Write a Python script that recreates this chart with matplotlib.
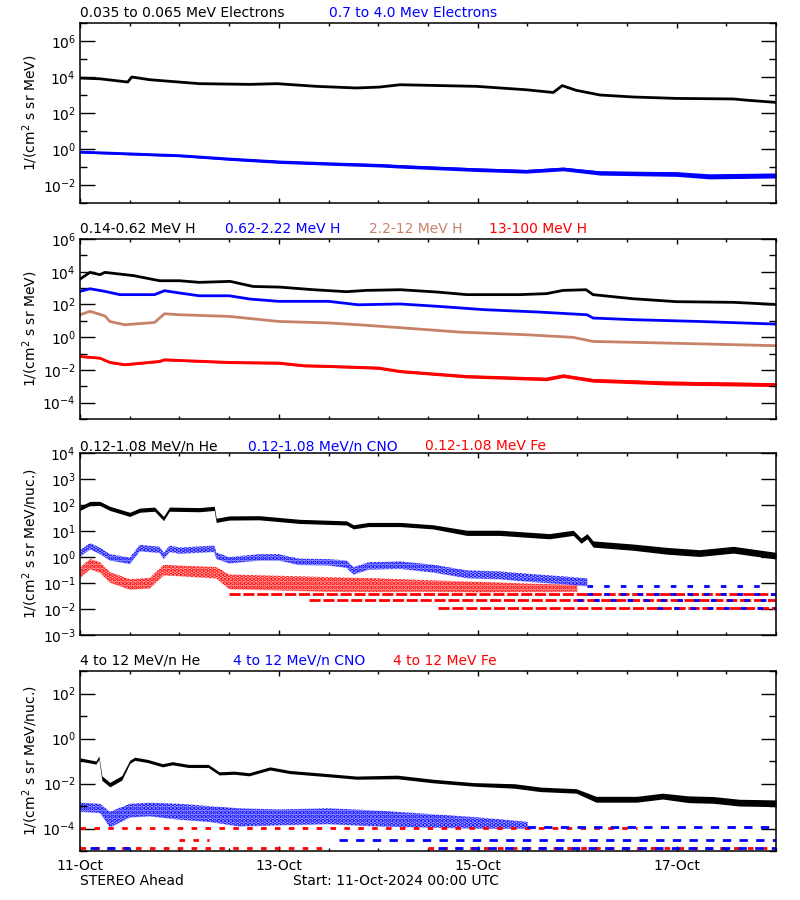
import matplotlib
matplotlib.use('Agg')
import matplotlib.pyplot as plt
import numpy as np
from matplotlib.ticker import NullFormatter

plt.rcParams['font.family'] = ['DejaVu Sans']
plt.rcParams['mathtext.default'] = 'regular'
plt.rcParams['hatch.linewidth'] = 2.2

BROWN = '#c8826a'

# all values are log10 of the flux, times are days since 11-Oct-2024 00:00

# --- panel 1: electrons
e_low_t = [0, 0.2, 0.48, 0.52, 0.7, 1.2, 1.71, 1.98, 2.38, 2.78, 3.01, 3.22, 3.99,
           4.49, 4.76, 4.85, 4.99, 5.23, 5.56, 6.0, 6.57, 6.73, 7.0]
e_low_v = [3.94, 3.90, 3.72, 4.0, 3.85, 3.63, 3.59, 3.63, 3.48, 3.39, 3.44, 3.57, 3.48,
           3.29, 3.14, 3.52, 3.26, 3.0, 2.89, 2.81, 2.78, 2.7, 2.59]
e_high_t = [0, 0.5, 1.0, 1.51, 2.01, 2.51, 3.02, 3.22, 3.99, 4.49, 4.86, 5.23, 6.0, 6.33, 7.0]
e_high_v = [-0.17, -0.27, -0.37, -0.56, -0.72, -0.82, -0.91, -0.97, -1.15, -1.24, -1.11,
            -1.33, -1.39, -1.52, -1.47]
e_high_sp = [0.05, 0.06, 0.06, 0.07, 0.08, 0.08, 0.09, 0.09, 0.1, 0.1, 0.1, 0.12, 0.13,
             0.14, 0.14]

# --- panel 2: protons
h1_t = [0, 0.1, 0.2, 0.25, 0.54, 0.8, 1.0, 1.2, 1.51, 1.74, 2.01, 2.35, 2.68, 2.88,
        3.22, 3.59, 3.89, 4.42, 4.69, 4.86, 5.09, 5.16, 5.56, 6.0, 6.57, 7.0]
h1_v = [3.55, 3.96, 3.82, 3.96, 3.76, 3.45, 3.45, 3.35, 3.41, 3.1, 3.06, 2.9, 2.78, 2.86,
        2.9, 2.76, 2.6, 2.6, 2.66, 2.86, 2.9, 2.6, 2.35, 2.17, 2.13, 2.0]
h2_t = [0, 0.1, 0.25, 0.4, 0.75, 0.85, 1.0, 1.2, 1.5, 1.71, 2.0, 2.5, 2.8, 3.22, 3.61,
        4.07, 4.6, 5.1, 5.16, 5.56, 6.23, 7.0]
h2_v = [2.8, 2.96, 2.8, 2.6, 2.6, 2.84, 2.7, 2.53, 2.53, 2.33, 2.19, 2.19, 1.98, 2.03,
        1.88, 1.68, 1.54, 1.37, 1.17, 1.07, 0.96, 0.8]
h3_t = [0, 0.1, 0.25, 0.3, 0.45, 0.75, 0.85, 1.0, 1.5, 2.0, 2.5, 2.8, 3.22, 3.82, 4.49,
        4.96, 5.16, 5.9, 7.0]
h3_v = [1.37, 1.58, 1.3, 0.96, 0.76, 0.9, 1.43, 1.37, 1.27, 0.96, 0.87, 0.76, 0.58, 0.31,
        0.15, -0.01, -0.26, -0.36, -0.52]
h4_t = [0, 0.2, 0.3, 0.45, 0.8, 0.85, 1.0, 1.5, 2.0, 2.25, 2.5, 3.0, 3.22, 3.89, 4.69,
        4.86, 5.16, 5.9, 7.0]
h4_v = [-1.18, -1.28, -1.54, -1.68, -1.48, -1.38, -1.42, -1.54, -1.58, -1.74, -1.78,
        -1.88, -2.09, -2.4, -2.56, -2.36, -2.64, -2.8, -2.9]
h4_sp = [0.05, 0.05, 0.06, 0.06, 0.06, 0.06, 0.06, 0.07, 0.07, 0.07, 0.07, 0.08, 0.08,
         0.09, 0.1, 0.1, 0.11, 0.12, 0.12]

# --- panel 3: 0.12-1.08 MeV/n ions
he_lo_t = [0, 0.1, 0.2, 0.3, 0.5, 0.6, 0.75, 0.84, 0.9, 1.2, 1.35, 1.37, 1.5, 1.8, 2.21,
           2.68, 2.75, 2.9, 3.22, 3.55, 3.89, 4.22, 4.72, 4.96, 5.04, 5.1, 5.16, 5.56,
           5.9, 6.23, 6.57, 7.0]
he_lo_v = [1.87, 2.06, 2.06, 1.87, 1.64, 1.8, 1.84, 1.48, 1.84, 1.82, 1.87, 1.41, 1.5,
           1.51, 1.37, 1.31, 1.16, 1.25, 1.25, 1.16, 0.93, 0.93, 0.8, 0.93, 0.63, 0.8,
           0.5, 0.38, 0.24, 0.15, 0.28, 0.05]
he_lo_sp = [0.08, 0.08, 0.08, 0.08, 0.08, 0.08, 0.08, 0.08, 0.08, 0.08, 0.08, 0.08, 0.08,
            0.08, 0.08, 0.08, 0.08, 0.08, 0.08, 0.08, 0.1, 0.1, 0.1, 0.1, 0.1, 0.1,
            0.12, 0.12, 0.13, 0.13, 0.13, 0.13]
cno_lo_t = [0, 0.1, 0.2, 0.3, 0.5, 0.6, 0.8, 0.84, 0.9, 1.0, 1.35, 1.37, 1.5, 1.8, 2.0,
            2.2, 2.5, 2.68, 2.75, 2.9, 3.22, 3.55, 3.89, 4.22, 4.56, 4.89, 5.1]
cno_lo_v = [0.15, 0.42, 0.24, -0.01, -0.14, 0.35, 0.28, 0.05, 0.32, 0.25, 0.32, 0.05,
            -0.12, -0.01, -0.01, -0.18, -0.2, -0.27, -0.53, -0.34, -0.31, -0.44, -0.66,
            -0.7, -0.81, -0.9, -0.97]
cno_lo_sp = [0.12, 0.12, 0.12, 0.12, 0.12, 0.12, 0.12, 0.12, 0.12, 0.12, 0.12, 0.12,
             0.12, 0.12, 0.12, 0.12, 0.12, 0.14, 0.14, 0.14, 0.14, 0.15, 0.15, 0.15,
             0.15, 0.15, 0.15]
fe_lo_t = [0, 0.1, 0.2, 0.3, 0.5, 0.7, 0.84, 1.0, 1.37, 1.5, 2.0, 2.5, 3.0, 3.5, 4.0,
           4.5, 5.0]
fe_lo_v = [-0.6, -0.27, -0.4, -0.78, -1.05, -1.0, -0.5, -0.53, -0.6, -0.95, -1.0,
           -1.05, -1.08, -1.11, -1.15, -1.18, -1.2]
fe_lo_sp = [0.2, 0.2, 0.2, 0.2, 0.2, 0.2, 0.2, 0.2, 0.22, 0.28, 0.28, 0.28, 0.26, 0.22,
            0.2, 0.16, 0.13]

# --- panel 4: 4-12 MeV/n ions
he_hi_t = [0, 0.16, 0.19, 0.22, 0.3, 0.42, 0.5, 0.55, 0.68, 0.83, 0.93, 1.09, 1.29,
           1.4, 1.55, 1.7, 1.91, 2.11, 2.52, 2.78, 3.19, 3.55, 3.96, 4.37, 4.63, 4.99,
           5.19, 5.6, 5.86, 6.12, 6.37, 6.63, 7.0]
he_hi_v = [-0.93, -1.07, -0.85, -1.76, -2.05, -1.75, -1.04, -0.9, -1.0, -1.19, -1.1,
           -1.22, -1.22, -1.55, -1.52, -1.59, -1.33, -1.49, -1.64, -1.74, -1.71, -1.89,
           -2.04, -2.11, -2.26, -2.33, -2.7, -2.7, -2.56, -2.7, -2.73, -2.85, -2.88]
he_hi_sp = [0.07, 0.07, 0.07, 0.1, 0.1, 0.1, 0.07, 0.07, 0.07, 0.07, 0.07, 0.07, 0.07,
            0.07, 0.07, 0.07, 0.07, 0.07, 0.07, 0.07, 0.08, 0.08, 0.08, 0.1, 0.1, 0.1,
            0.13, 0.13, 0.13, 0.15, 0.15, 0.15, 0.15]
cno_hi_t = [0, 0.2, 0.3, 0.5, 0.7, 1.0, 1.3, 1.6, 2.0, 2.5, 3.0, 3.5, 4.0, 4.5]
cno_hi_v = [-3.05, -3.1, -3.6, -3.2, -3.15, -3.25, -3.35, -3.5, -3.5, -3.45, -3.55,
            -3.65, -3.75, -3.85]
cno_hi_sp = [0.2, 0.2, 0.35, 0.3, 0.3, 0.35, 0.35, 0.4, 0.35, 0.35, 0.35, 0.3, 0.25, 0.15]

# single-count rows: (log10 level, start day, end day)
p3_red_rows = [(-1.44, 1.5, 7.0), (-1.64, 2.3, 7.0), (-1.96, 3.6, 7.0)]
p3_blue_rows = [(-1.12, 5.1, 6.9), (-1.44, 5.1, 7.0), (-1.64, 5.0, 7.0), (-1.96, 5.8, 7.0)]
p4_red_rows = [(-3.97, 0.0, 5.6), (-4.88, 0.0, 2.5), (-4.88, 3.5, 7.0), (-4.52, 1.0, 1.3)]
p4_blue_rows = [(-3.95, 4.5, 7.0), (-4.52, 2.6, 7.0), (-4.88, 3.6, 7.0), (-4.88, 0.1, 0.5)]

titles = [
    [('0.035 to 0.065 MeV Electrons', 'black', 80), ('0.7 to 4.0 Mev Electrons', 'blue', 329)],
    [('0.14-0.62 MeV H', 'black', 80), ('0.62-2.22 MeV H', 'blue', 225),
     ('2.2-12 MeV H', BROWN, 369), ('13-100 MeV H', 'red', 489)],
    [('0.12-1.08 MeV/n He', 'black', 80), ('0.12-1.08 MeV/n CNO', 'blue', 248),
     ('0.12-1.08 MeV Fe', 'red', 425)],
    [('4 to 12 MeV/n He', 'black', 80), ('4 to 12 MeV/n CNO', 'blue', 233),
     ('4 to 12 MeV Fe', 'red', 393)],
]
ylabels = ['1/(cm$^2$ s sr MeV)', '1/(cm$^2$ s sr MeV)',
           '1/(cm$^2$ s sr MeV/nuc.)', '1/(cm$^2$ s sr MeV/nuc.)']
day_labels = ['11-Oct', '13-Oct', '15-Oct', '17-Oct']
day_ticks = [0, 2, 4, 6]

W, H = 800, 900
fig = plt.figure(figsize=(8, 9), dpi=100)

# pixel boxes: top, bottom
boxes = [(23, 203), (239, 419), (453, 635), (671, 851)]
axes = []
for top, bot in boxes:
    axes.append(fig.add_axes([80 / W, 1 - bot / H, (776 - 80) / W, (bot - top) / H]))

def setup(ax, lo, hi, major, minor):
    ax.set_yscale('log')
    ax.set_xlim(0, 7)
    ax.set_ylim(10.0 ** lo, 10.0 ** hi)
    ax.set_yticks([10.0 ** e for e in major], labels=['$10^{%d}$' % e for e in major])
    ax.set_yticks([10.0 ** e for e in minor], minor=True)
    ax.yaxis.set_minor_formatter(NullFormatter())
    ax.set_xticks(day_ticks, labels=[])
    ax.set_xticks(np.arange(0, 7.01, 0.5), minor=True)
    ax.tick_params(which='both', direction='in', top=True, right=True,
                   width=1.0, labelsize=10, colors='black')
    ax.tick_params(axis='y', which='major', length=11, pad=3)
    ax.tick_params(axis='y', which='minor', length=5)
    ax.tick_params(axis='x', which='major', length=3.5)
    ax.tick_params(axis='x', which='minor', length=2)
    for s in ax.spines.values():
        s.set_linewidth(1.1)

setup(axes[0], -3, 7, [-2, 0, 2, 4, 6], [-3, -1, 1, 3, 5, 7])
setup(axes[1], -5, 6, [-4, -2, 0, 2, 4, 6], [-5, -3, -1, 1, 3, 5])
setup(axes[2], -3, 4, [-3, -2, -1, 0, 1, 2, 3, 4], [])
setup(axes[3], -5, 3, [-4, -2, 0, 2], [-5, -3, -1, 1, 3])

def line(ax, t, v, color, lw=2.0):
    ax.plot(t, 10.0 ** np.asarray(v), color=color, lw=lw)

def band(ax, t, v, sp, color, cloud=False):
    v = np.asarray(v)
    sp = np.asarray(sp)
    lo, hi = 10.0 ** (v - sp), 10.0 ** (v + sp)
    if cloud:
        # scattered counts: light fill with a dot texture on top
        ax.fill_between(t, lo, hi, color=color, alpha=0.3, linewidth=0)
        ax.fill_between(t, lo, hi, facecolor='none', edgecolor=color,
                        hatch='....', linewidth=0)
    else:
        ax.fill_between(t, lo, hi, color=color, linewidth=0)

def rows(ax, rws, color, dashes):
    for lev, t0, t1 in rws:
        ax.plot([t0, t1], [10.0 ** lev, 10.0 ** lev], color=color, lw=2.0,
                dashes=dashes, solid_capstyle='butt')

# panel 1
ax = axes[0]
line(ax, e_low_t, e_low_v, 'black', 2.0)
band(ax, e_high_t, e_high_v, e_high_sp, 'blue')
line(ax, e_high_t, e_high_v, 'blue', 2.0)

# panel 2
ax = axes[1]
line(ax, h1_t, h1_v, 'black', 2.0)
line(ax, h2_t, h2_v, 'blue', 2.0)
line(ax, h3_t, h3_v, BROWN, 2.0)
band(ax, h4_t, h4_v, h4_sp, 'red')
line(ax, h4_t, h4_v, 'red', 2.0)

# panel 3
ax = axes[2]
rows(ax, p3_red_rows, 'red', (4, 1))
rows(ax, p3_blue_rows, 'blue', (2, 4))
band(ax, fe_lo_t, fe_lo_v, fe_lo_sp, 'red', cloud=True)
band(ax, cno_lo_t, cno_lo_v, cno_lo_sp, 'blue', cloud=True)
band(ax, he_lo_t, he_lo_v, he_lo_sp, 'black')

# panel 4
ax = axes[3]
rows(ax, p4_red_rows, 'red', (2, 3))
rows(ax, p4_blue_rows, 'blue', (3, 3))
band(ax, cno_hi_t, cno_hi_v, cno_hi_sp, 'blue', cloud=True)
band(ax, he_hi_t, he_hi_v, he_hi_sp, 'black')
axes[3].set_xticks(day_ticks, labels=day_labels)
axes[3].tick_params(axis='x', which='major', pad=6)

title_y = [13, 229, 446, 661]
for ax, tl, ty, yl, (top, bot) in zip(axes, titles, title_y, ylabels, boxes):
    for txt, col, xpx in tl:
        fig.text(xpx / W, 1 - ty / H, txt, color=col, fontsize=10, ha='left', va='center')
    fig.text(30 / W, 1 - (top + bot) / 2 / H, yl, rotation=90, fontsize=10,
             ha='center', va='center')

fig.text(80 / W, 1 - 881 / H, 'STEREO Ahead', fontsize=10, ha='left', va='center')
fig.text(293 / W, 1 - 881 / H, 'Start: 11-Oct-2024 00:00 UTC', fontsize=10,
         ha='left', va='center')

fig.savefig('out.png', dpi=100, facecolor='white')
